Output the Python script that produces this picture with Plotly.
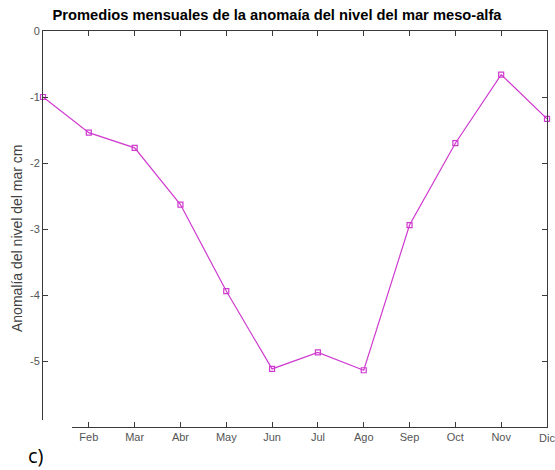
import plotly.graph_objects as go

# Monthly mean of meso-alpha sea level anomaly (cm)
meses = ["Ene", "Feb", "Mar", "Abr", "May", "Jun", "Jul", "Ago", "Sep", "Oct", "Nov", "Dic"]
mes_num = list(range(1, 13))
anomalia = [-1.00, -1.54, -1.77, -2.63, -3.94, -5.12, -4.87, -5.14, -2.94, -1.70, -0.66, -1.33]
y_ticks = [0, -1, -2, -3, -4, -5]

W, H = 555, 470
L, R, T, B = 43, 8, 31, 43
plot_w = W - L - R
plot_h = H - T - B

tick_font = dict(family="Liberation Sans, Arial, sans-serif", size=11, color="#555555")

fig = go.Figure()
fig.add_trace(go.Scatter(
    x=mes_num, y=anomalia, mode="lines+markers",
    line=dict(color="#cf3acf", width=1.2),
    marker=dict(symbol="square-open", size=5, color="#cf3acf", line=dict(width=1.2)),
    cliponaxis=False, showlegend=False,
))

axis_common = dict(
    showline=True, linecolor="#3a3a3a", linewidth=1, mirror="ticks",
    ticks="inside", ticklen=5, tickcolor="#3a3a3a", tickwidth=1,
    showgrid=False, zeroline=False, tickfont=tick_font,
)

fig.update_xaxes(range=[1, 12], tickvals=mes_num, ticktext=meses, **axis_common)
fig.update_yaxes(range=[-6, 0], tickvals=y_ticks, ticktext=[str(v) for v in y_ticks], **axis_common)

# last month label sits on the right edge of the figure
fig.add_annotation(text=meses[-1], xref="x", yref="paper", x=mes_num[-1],
                   y=-(438 - (T + plot_h)) / plot_h, xanchor="center", yanchor="middle",
                   showarrow=False, font=tick_font)

# blank out the lower-left corner where the panel letter sits
fig.add_shape(type="rect", xref="paper", yref="paper",
              x0=-L / plot_w, x1=(72 - L) / plot_w,
              y0=-B / plot_h, y1=7 / plot_h,
              fillcolor="white", line=dict(width=0), layer="above")

fig.add_annotation(text="c)", xref="paper", yref="paper",
                   x=(36 - L) / plot_w, y=-(455 - (T + plot_h)) / plot_h,
                   xanchor="center", yanchor="middle", showarrow=False,
                   font=dict(family="Open Sans, sans-serif", size=20, color="black"))

fig.add_annotation(text="Anomalía del nivel del mar cm", xref="paper", yref="paper",
                   x=(17 - L) / plot_w, y=(T + plot_h - 238) / plot_h,
                   xanchor="center", yanchor="middle", textangle=-90, showarrow=False,
                   font=dict(family="Liberation Sans, Arial, sans-serif", size=14, color="#404040"))

fig.update_layout(
    width=W, height=H,
    margin=dict(l=L, r=R, t=T, b=B),
    paper_bgcolor="white", plot_bgcolor="white",
    title=dict(text="<b>Promedios mensuales de la anomaía del nivel del mar meso-alfa</b>",
               x=277 / W, xanchor="center", y=1 - 15 / H, yanchor="middle",
               font=dict(family="Liberation Sans, Arial, sans-serif", size=14.7, color="black")),
)

fig.write_html("out.html")
